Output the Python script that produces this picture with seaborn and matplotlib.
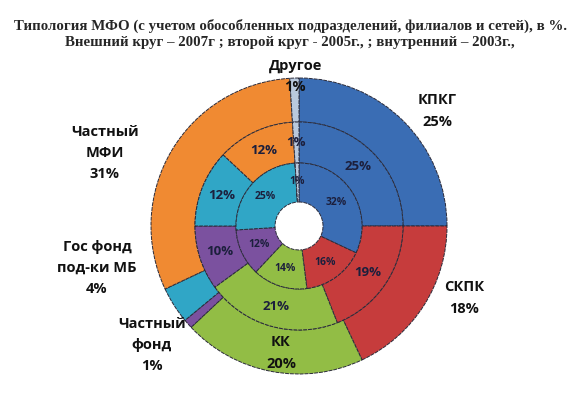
import matplotlib.pyplot as plt
import numpy as np
import seaborn as sns

# categories in pie order (clockwise from the top)
categories = ["КПКГ", "СКПК", "КК", "Частный фонд", "Гос фонд под-ки МБ", "Частный МФИ", "Другое"]
outer_2007 = [25, 18, 20, 1, 4, 31, 1]
middle_2005 = [25, 19, 21, 10, 12, 12, 1]
inner_2003 = [32, 16, 14, 12, 25, 0, 1]

outer_labels = ["КПКГ\n25%", "СКПК\n18%", "КК\n20%", "Частный\nфонд\n1%",
                "Гос фонд\nпод-ки МБ\n4%", "Частный\nМФИ\n31%", "Другое"]

colors = ["#3a6db4", "#c63c3c", "#92bd45", "#7b519f", "#30a6c6", "#f08a32", "#b9c9dd"]
title = ("Типология МФО (с учетом обособленных подразделений, филиалов и сетей), в %.\n"
         "Внешний круг – 2007г ; второй круг - 2005г., ; внутренний – 2003г.,")

W, H = 580, 398
CX, CY = 299, 226
R_OUT, R_MID, R_IN, R_HOLE = 148, 104, 63, 24


def py(y):
    return H - y


sns.set_theme(style="white")
plt.rcParams["font.family"] = ["Open Sans", "DejaVu Sans"]

fig = plt.figure(figsize=(W / 100, H / 100), dpi=100)
ax = fig.add_axes([0, 0, 1, 1])

rings = [(outer_2007, R_OUT, R_OUT - R_MID), (middle_2005, R_MID, R_MID - R_IN),
         (inner_2003, R_IN, R_IN - R_HOLE)]
for values, radius, width in rings:
    ax.pie(values, radius=radius, center=(CX, py(CY)), startangle=90, counterclock=False,
           colors=colors, normalize=True,
           wedgeprops=dict(width=width, edgecolor="#2b2b3a", linewidth=0.7, linestyle=(0, (4, 1))))
ax.set_xlim(0, W)
ax.set_ylim(0, H)
ax.set_aspect("equal")
ax.axis("off")


def ring_labels(values, r_mid, size):
    vals = np.array(values, dtype=float)
    ends = np.cumsum(vals) / vals.sum()
    starts = ends - vals / vals.sum()
    for v, s, e in zip(values, starts, ends):
        if v == 0:
            continue
        ang = np.deg2rad(90 - 360 * (s + e) / 2)
        ax.text(CX + r_mid * np.cos(ang), py(CY) + r_mid * np.sin(ang), f"{v}%",
                ha="center", va="center", fontsize=size, fontweight="bold", color="#1c1f3c")


ring_labels(middle_2005, (R_MID + R_IN) / 2, 9.5)
ring_labels(inner_2003, (R_IN + R_HOLE) / 2 + 1, 7.5)

# outer ring annotations
label_pos = [(437, 111), (464, 298), (281, 353), (152, 345), (97, 268), (105, 153), (296, 66)]
for text, (x, y) in zip(outer_labels, label_pos):
    ax.text(x, py(y), text, ha="center", va="center", fontsize=10.5, fontweight="bold",
            color="#111111", linespacing=1.65)
ax.text(295, py(87), f"{outer_2007[-1]}%", ha="center", va="center", fontsize=10.5,
        fontweight="bold", color="#111111")

fig.text(0.5, 1 - 34 / H, title, ha="center", va="center", fontsize=10.75, fontweight="bold",
         family="Liberation Serif", linespacing=1.3)

fig.savefig("out.png", dpi=100)
